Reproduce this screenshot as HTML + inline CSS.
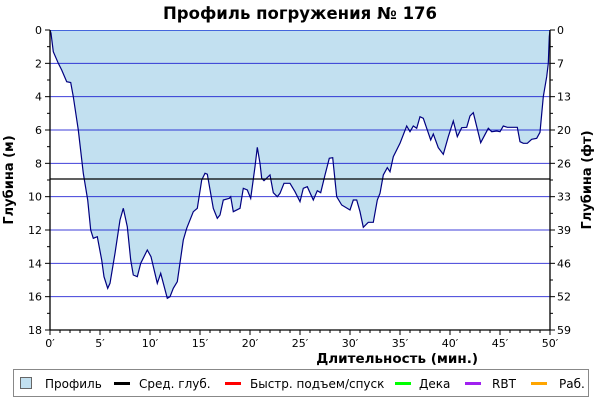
<!DOCTYPE html>
<html><head><meta charset="utf-8">
<style>
html,body{margin:0;padding:0;background:#fff;}
body{width:600px;height:400px;overflow:hidden;font-family:"Liberation Sans","DejaVu Sans",sans-serif;}
svg text{font-family:"DejaVu Sans","Liberation Sans",sans-serif;}
</style></head>
<body>
<svg id="chart" width="600" height="400" xmlns="http://www.w3.org/2000/svg">
<text x="300" y="19" text-anchor="middle" font-size="16.5" font-weight="bold" fill="#000">Профиль погружения № 176</text>
<g id="plotg"></g>
<g id="gridg"></g>
<g id="axesg"></g>
<text transform="translate(13,180) rotate(-90)" text-anchor="middle" font-size="13" font-weight="bold">Глубина (м)</text>
<text transform="translate(591,180) rotate(-90)" text-anchor="middle" font-size="13" font-weight="bold">Глубина (фт)</text>
<text x="478" y="363" text-anchor="end" font-size="13.5" font-weight="bold">Длительность (мин.)</text>
<g>
<rect x="13.5" y="369.5" width="575" height="27" fill="#fff" stroke="#888"/>
<rect x="20.5" y="377.5" width="11" height="11" fill="#c2e0f0" stroke="#666"/>
<text x="45" y="388" font-size="12">Профиль</text>
<rect x="114" y="382" width="16" height="3" fill="#000"/><text x="139" y="388" font-size="12">Сред. глуб.</text>
<rect x="225" y="382" width="16" height="3" fill="#f00"/><text x="250" y="388" font-size="12">Быстр. подъем/спуск</text>
<rect x="395" y="382" width="16" height="3" fill="#0f0"/><text x="419" y="388" font-size="12">Дека</text>
<rect x="465" y="382" width="16" height="3" fill="#a020f0"/><text x="492" y="388" font-size="12">RBT</text>
<rect x="531" y="382" width="16" height="3" fill="#ffa500"/><text x="559" y="388" font-size="12">Раб.</text>
</g>
</svg>
<script>
const times=[0,0.1,0.33,0.83,1.17,1.67,2.07,2.33,2.83,3.33,3.77,4.07,4.33,4.73,5.17,5.4,5.77,6.0,6.5,7.0,7.33,7.73,8.07,8.33,8.73,9.07,9.73,10.1,10.73,11.07,11.73,12.0,12.33,12.73,13.33,13.67,14.33,14.73,15.17,15.5,15.73,16.33,16.73,17.0,17.33,17.93,18.07,18.33,19.0,19.33,19.73,20.07,20.5,20.73,21.0,21.17,21.4,22.0,22.33,22.73,23.0,23.4,24.0,24.5,25.0,25.33,25.73,26.33,26.73,27.07,27.5,27.93,28.27,28.67,29.17,30.0,30.33,30.67,31.0,31.33,31.83,32.33,32.73,33.0,33.33,33.73,34.0,34.33,35.0,35.67,36.0,36.33,36.67,37.0,37.33,38.07,38.33,38.83,39.33,39.83,40.33,40.73,41.17,41.67,42.0,42.33,43.07,43.83,44.17,44.67,45.0,45.33,45.73,46.73,47.0,47.33,47.73,48.17,48.67,49.0,49.33,49.67,49.83,49.93,50.0];
const depths=[0,0.2,1.3,2.0,2.4,3.1,3.15,4.0,6.0,8.6,10.2,12.0,12.5,12.4,13.8,14.8,15.5,15.2,13.4,11.4,10.7,11.8,13.8,14.7,14.8,14.0,13.2,13.6,15.2,14.6,16.1,16.0,15.5,15.1,12.6,11.9,10.9,10.7,9.0,8.6,8.65,10.7,11.3,11.1,10.2,10.1,10.0,10.9,10.7,9.5,9.6,10.1,8.2,7.04,8.0,8.9,9.04,8.7,9.76,10.0,9.8,9.2,9.2,9.7,10.3,9.5,9.4,10.2,9.64,9.76,8.7,7.7,7.66,10.0,10.5,10.8,10.2,10.2,10.9,11.84,11.54,11.54,10.2,9.8,8.7,8.26,8.5,7.6,6.8,5.76,6.1,5.76,5.9,5.2,5.3,6.6,6.24,7.06,7.46,6.4,5.46,6.4,5.86,5.84,5.16,4.96,6.76,5.9,6.1,6.06,6.1,5.76,5.84,5.84,6.7,6.8,6.8,6.56,6.5,6.14,4.0,2.8,2.0,0.4,0];
const avgDepth=[8.94];
const depthTicks=[0,2,4,6,8,10,12,14,16,18];
const feetTicks=["0","7","13","20","26","33","39","46","52","59"];
const timeTicks=[0,5,10,15,20,25,30,35,40,45,50];
(function(){
const X0=50,X1=550,Y0=30,Y1=330,TMAX=50,DMAX=18;
const xs=t=>X0+(t/TMAX)*(X1-X0);
const ys=d=>Y0+(d/DMAX)*(Y1-Y0);
const NS="http://www.w3.org/2000/svg";
function mk(tag,attrs,parent){const e=document.createElementNS(NS,tag);for(const k in attrs)e.setAttribute(k,attrs[k]);parent.appendChild(e);return e;}
const gridG=document.getElementById('gridg'),plotG=document.getElementById('plotg'),axesG=document.getElementById('axesg');
let d="M"+xs(times[0])+","+ys(0);
for(let i=0;i<times.length;i++)d+=" L"+xs(times[i]).toFixed(1)+","+ys(depths[i]).toFixed(1);
d+=" L"+xs(times[times.length-1])+","+ys(0)+" Z";
const area=mk('path',{d:d,fill:'#c2e0f0',stroke:'none'},plotG);


depthTicks.forEach(v=>{if(v===0||v===DMAX)return;
 const l=mk('line',{x1:X0,x2:X1,y1:ys(v),y2:ys(v),stroke:'#0000cc','stroke-width':1,opacity:0.75},gridG);
 
 });
const surfaceLine=mk('line',{x1:X0,x2:X1,y1:Y0+0.5,y2:Y0+0.5,stroke:'#4466dd','stroke-width':1},gridG);


let ld="";
for(let i=0;i<times.length;i++)ld+=(i?" L":"M")+xs(times[i]).toFixed(1)+","+ys(depths[i]).toFixed(1);
const pl=mk('path',{d:ld,fill:'none',stroke:'#000080','stroke-width':1.2},gridG);


const avg=mk('line',{x1:X0,x2:X1,y1:ys(avgDepth[0]),y2:ys(avgDepth[0]),stroke:'#000','stroke-width':1.3},gridG);


mk('line',{x1:X0,x2:X0,y1:Y0,y2:Y1+0.5,stroke:'#000','stroke-width':1.3},axesG);
mk('line',{x1:X1,x2:X1,y1:Y0,y2:Y1+0.5,stroke:'#000','stroke-width':1.3},axesG);
mk('line',{x1:X0,x2:X1,y1:Y1,y2:Y1,stroke:'#000','stroke-width':1.3},axesG);
for(let m=0;m<=DMAX;m++){const y=ys(m);mk('line',{x1:X0-(m%2?3:5),x2:X0,y1:y,y2:y,stroke:'#000'},axesG);mk('line',{x1:X1,x2:X1+(m%2?3:5),y1:y,y2:y,stroke:'#000'},axesG);}
for(let t=0;t<=TMAX;t++){const x=xs(t);mk('line',{x1:x,x2:x,y1:Y1,y2:Y1+(t%5?3:5),stroke:'#000'},axesG);}
depthTicks.forEach((v,i)=>{
 const tl=mk('text',{x:X0-8,y:ys(v)+4,'text-anchor':'end','font-size':11},axesG);tl.textContent=v;
 
 
 const tr=mk('text',{x:X1+7,y:ys(v)+4,'font-size':11},axesG);tr.textContent=feetTicks[i];
 
 });
timeTicks.forEach(t=>{const tx=mk('text',{x:xs(t),y:Y1+17,'text-anchor':'middle','font-size':11},axesG);tx.textContent=t+"′";
 
 });
})();
</script>
</body></html>
